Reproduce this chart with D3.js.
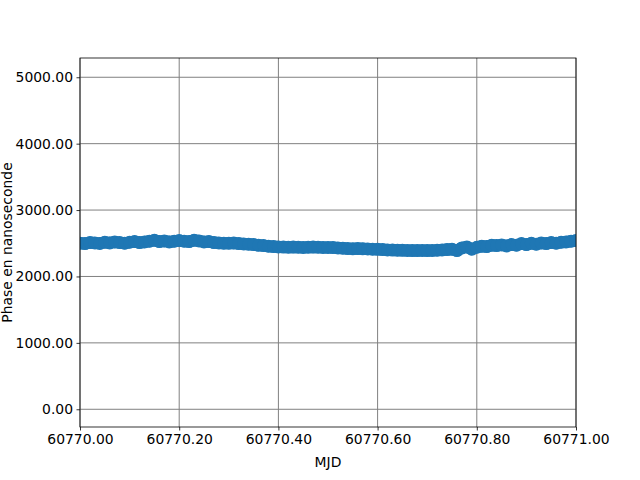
<!DOCTYPE html>
<html><head><meta charset="utf-8">
<script src="https://cdn.jsdelivr.net/npm/d3@7"></script>
<style>body{margin:0;background:#fff}svg{display:block}text{font-family:"DejaVu Sans",sans-serif}</style>
</head><body>
<script>
const mjdStart = 60770.00;
const mjdStep = 0.01;
const phaseNs = [
 2500,2495,2510,2505,2498,2515,2505,2520,2510,2500,
 2515,2525,2510,2520,2530,2545,2525,2535,2520,2530,
 2540,2530,2525,2545,2535,2520,2525,2510,2505,2500,
 2500,2505,2495,2490,2485,2480,2470,2465,2455,2450,
 2445,2443,2440,2442,2440,2438,2440,2442,2440,2438,
 2437,2435,2430,2425,2420,2418,2420,2418,2415,2410,
 2408,2405,2400,2398,2395,2393,2392,2390,2390,2392,
 2390,2392,2395,2400,2405,2410,2390,2430,2445,2410,
 2440,2455,2450,2470,2465,2475,2460,2480,2470,2495,
 2480,2500,2485,2505,2495,2510,2500,2515,2520,2530,2540
];
const xTicks = [60770.0,60770.2,60770.4,60770.6,60770.8,60771.0];
const yTicks = [0,1000,2000,3000,4000,5000];
const xLabel = "MJD";
const yLabel = "Phase en nanoseconde";

const W=640,H=480, L=80,R=576,T=58,B=427;
const svg=d3.select("body").append("svg").attr("width",W).attr("height",H);
const x=d3.scaleLinear().domain([60770.0,60771.0]).range([L,R]);
const y=d3.scaleLinear().domain([-267,5290]).range([B,T]);
const data=phaseNs.map((v,i)=>({t:mjdStart+i*mjdStep,v}));

svg.append("defs").append("clipPath").attr("id","c").append("rect")
  .attr("x",L).attr("y",T).attr("width",R-L).attr("height",B-T);

const grid=svg.append("g");
xTicks.forEach(t=>grid.append("line").attr("x1",x(t)).attr("x2",x(t)).attr("y1",T).attr("y2",B).attr("stroke","#808080").attr("stroke-width",1));
yTicks.forEach(t=>grid.append("line").attr("x1",L).attr("x2",R).attr("y1",y(t)).attr("y2",y(t)).attr("stroke","#808080").attr("stroke-width",1));

const g=svg.append("g").attr("clip-path","url(#c)");
g.append("path").datum(data).attr("fill","none").attr("stroke","#1f77b4")
 .attr("stroke-width",12).attr("stroke-linejoin","round").attr("stroke-linecap","round")
 .attr("d",d3.line().x(d=>x(d.t)).y(d=>y(d.v)));
g.selectAll("circle").data(data).join("circle").attr("cx",d=>x(d.t)).attr("cy",d=>y(d.v)).attr("r",6.5).attr("fill","#1f77b4");

const xa=svg.append("g").attr("transform",`translate(0,${B})`)
 .call(d3.axisBottom(x).tickValues(xTicks).tickFormat(d3.format(".2f")).tickSize(3.5).tickPadding(3.5));
const ya=svg.append("g").attr("transform",`translate(${L},0)`)
 .call(d3.axisLeft(y).tickValues(yTicks).tickFormat(d3.format(".2f")).tickSize(3.5).tickPadding(3.5));
[xa,ya].forEach(a=>{a.select(".domain").remove();a.selectAll("text").attr("font-size","13.9px").attr("font-family","DejaVu Sans").attr("fill","#000");a.selectAll("line").attr("stroke","#000").attr("stroke-width",0.8);});

svg.append("rect").attr("x",L).attr("y",T).attr("width",R-L).attr("height",B-T).attr("fill","none").attr("stroke","#000").attr("stroke-width",0.8);

svg.append("text").attr("x",(L+R)/2).attr("y",467).attr("text-anchor","middle").attr("font-size","13.9px").text(xLabel);
svg.append("text").attr("transform",`translate(12,${(T+B)/2}) rotate(-90)`).attr("text-anchor","middle").attr("font-size","13.9px").text(yLabel);
</script>
</body></html>
